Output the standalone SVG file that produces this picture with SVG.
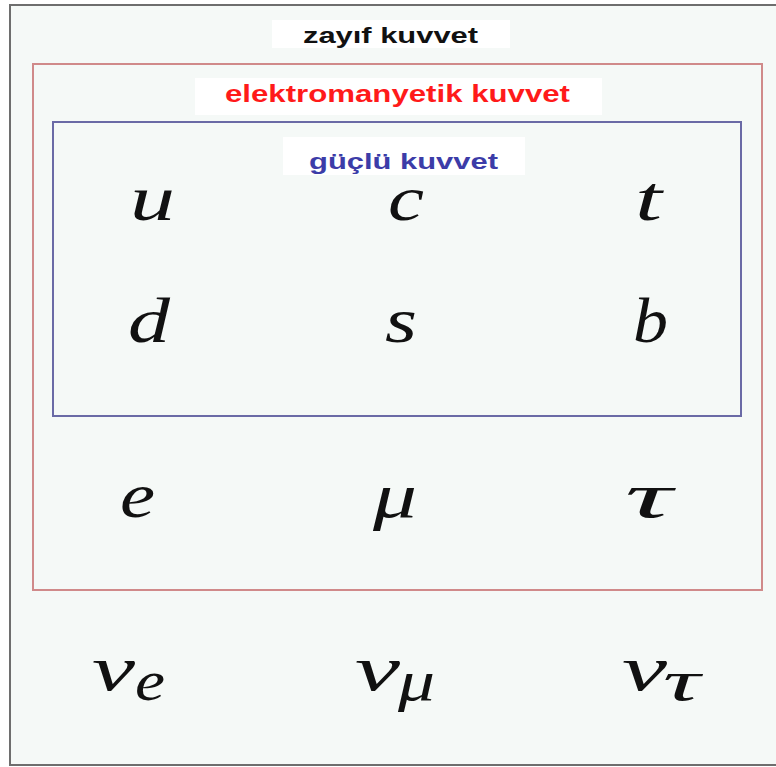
<svg xmlns="http://www.w3.org/2000/svg" width="776" height="767" viewBox="0 0 776 767">
<style>
.m{font-family:"Liberation Serif","DejaVu Serif",serif;font-style:italic;font-size:64px;fill:#111}
.sub{font-size:56px}
.lab{font-family:"Liberation Sans",Arial,sans-serif;font-weight:bold}
</style>
<rect x="0" y="0" width="776" height="767" fill="#ffffff"/>
<rect x="10" y="5" width="770" height="760" fill="#f5f9f7" stroke="#6e6e6e" stroke-width="2"/>
<g id="weak">
<rect x="272" y="20" width="238" height="28" fill="#ffffff"/>
<text class="lab" x="303" y="43" font-size="22" fill="#111" textLength="175" lengthAdjust="spacingAndGlyphs">zayıf kuvvet</text>
</g>
<g id="em">
<rect x="33" y="64" width="729" height="526" fill="none" stroke="#d08a8a" stroke-width="2"/>
<rect x="195" y="78" width="407" height="37" fill="#ffffff"/>
<text class="lab" x="225" y="102" font-size="23" fill="#ff1a1a" textLength="345" lengthAdjust="spacingAndGlyphs">elektromanyetik kuvvet</text>
</g>
<g id="strong">
<rect x="53" y="122" width="688" height="294" fill="none" stroke="#6a6aa6" stroke-width="2"/>
<rect x="283" y="137" width="242" height="38" fill="#ffffff"/>
<text class="lab" x="309" y="169" font-size="22" fill="#3c3ca8" textLength="189" lengthAdjust="spacingAndGlyphs">güçlü kuvvet</text>
</g>
<g id="quarks">
<text class="m" x="130" y="220" textLength="45" lengthAdjust="spacingAndGlyphs">u</text>
<text class="m" x="388" y="220" textLength="36" lengthAdjust="spacingAndGlyphs">c</text>
<text class="m" x="635" y="220" textLength="27" lengthAdjust="spacingAndGlyphs">t</text>
<text class="m" x="128" y="342" textLength="42" lengthAdjust="spacingAndGlyphs">d</text>
<text class="m" x="385" y="342" textLength="32" lengthAdjust="spacingAndGlyphs">s</text>
<text class="m" x="633" y="342" textLength="35" lengthAdjust="spacingAndGlyphs">b</text>
</g>
<g id="leptons">
<text class="m" x="120" y="517" textLength="35" lengthAdjust="spacingAndGlyphs">e</text>
<text class="m" x="373" y="517" textLength="44" lengthAdjust="spacingAndGlyphs">μ</text>
<text class="m" x="625" y="517" textLength="47" lengthAdjust="spacingAndGlyphs">τ</text>
</g>
<g id="neutrinos">
<text class="m" x="92" y="690" textLength="43" lengthAdjust="spacingAndGlyphs">ν</text><text class="m sub" x="135" y="700" textLength="30" lengthAdjust="spacingAndGlyphs">e</text>
<text class="m" x="355" y="690" textLength="45" lengthAdjust="spacingAndGlyphs">ν</text><text class="m sub" x="398" y="700" textLength="37" lengthAdjust="spacingAndGlyphs">μ</text>
<text class="m" x="622" y="690" textLength="45" lengthAdjust="spacingAndGlyphs">ν</text><text class="m sub" x="663" y="700" textLength="37" lengthAdjust="spacingAndGlyphs">τ</text>
</g>
<g id="connectors"></g>
</svg>
